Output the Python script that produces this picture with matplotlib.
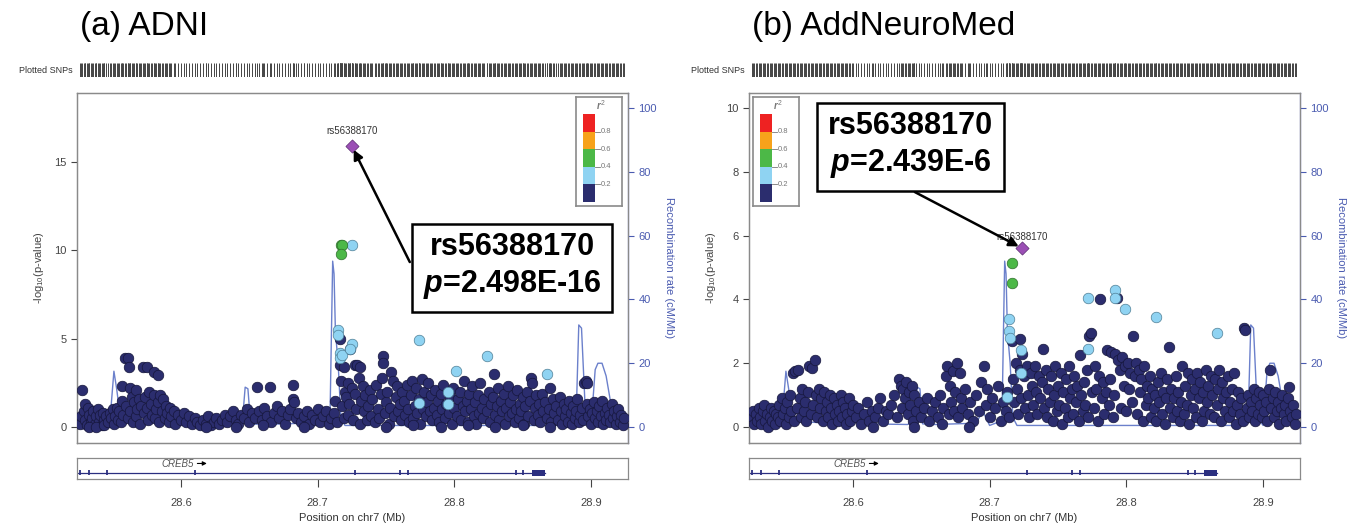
import matplotlib
matplotlib.use("Agg")
import matplotlib.pyplot as plt
from matplotlib.patches import Rectangle

plt.rcParams['font.family'] = ['Liberation Sans', 'DejaVu Sans']
plt.rcParams['mathtext.fontset'] = 'custom'
plt.rcParams['mathtext.rm'] = 'Liberation Sans'
plt.rcParams['mathtext.it'] = 'Liberation Sans:italic:bold'
plt.rcParams['mathtext.bf'] = 'Liberation Sans:bold'

# ---- data ----
titles = ["(a) ADNI", "(b) AddNeuroMed"]
lead_snp = "rs56388170"
lead_p = ["2.498E-16", "2.439E-6"]
lead_a = (28.725, 15.9)
lead_b = (28.724, 5.6)

# ADNI: (position Mb, -log10 p), r2 < 0.2
a_navy = [
    (28.526, 0.2), (28.527, 0.6), (28.528, 2.1), (28.529, 0.9), (28.530, 0.4), (28.530, 1.3), (28.531, 0.1),
    (28.532, 1.1), (28.533, 0.7), (28.534, 0.3), (28.535, 0.5), (28.536, 0.9), (28.537, 0.2), (28.538, 0.6),
    (28.539, 1.0), (28.540, 0.3), (28.541, 0.7), (28.542, 0.1), (28.543, 0.8), (28.544, 0.4), (28.545, 0.6),
    (28.533, 0.0), (28.538, 0.0), (28.544, 0.1),
    (28.547, 0.3), (28.548, 0.8), (28.549, 0.5), (28.550, 1.0), (28.551, 0.2), (28.552, 0.6), (28.553, 1.1),
    (28.554, 0.4), (28.555, 0.9), (28.556, 0.3), (28.557, 2.3), (28.557, 1.5), (28.558, 0.7), (28.559, 3.9),
    (28.560, 1.2), (28.561, 3.9), (28.561, 0.5), (28.562, 3.4), (28.563, 2.2), (28.563, 0.9), (28.564, 1.7),
    (28.565, 0.3), (28.566, 1.4), (28.567, 2.1), (28.567, 0.6), (28.568, 1.0), (28.569, 1.6), (28.570, 0.2),
    (28.571, 1.2), (28.572, 3.4), (28.573, 0.8), (28.574, 1.7), (28.575, 3.4), (28.575, 1.1), (28.576, 0.4),
    (28.577, 2.0), (28.578, 1.3), (28.579, 0.7), (28.580, 3.1), (28.580, 1.8), (28.581, 0.5), (28.582, 1.0),
    (28.583, 2.95), (28.583, 1.4), (28.584, 0.3), (28.585, 1.8), (28.586, 0.9), (28.587, 1.6), (28.588, 0.5),
    (28.589, 1.2), (28.590, 0.8), (28.591, 0.3), (28.592, 1.1), (28.593, 0.6), (28.595, 0.9), (28.596, 0.2),
    (28.598, 0.7), (28.600, 0.4), (28.602, 0.8), (28.604, 0.3),
    (28.606, 0.6), (28.608, 0.2), (28.610, 0.5), (28.612, 0.3), (28.614, 0.1), (28.616, 0.4), (28.618, 0.2),
    (28.620, 0.6), (28.622, 0.1), (28.624, 0.3), (28.626, 0.5), (28.628, 0.2), (28.630, 0.4), (28.632, 0.7),
    (28.634, 0.3), (28.636, 0.6), (28.638, 0.9), (28.640, 0.4), (28.642, 0.2), (28.644, 0.7), (28.646, 0.5),
    (28.648, 1.0), (28.650, 0.3), (28.652, 0.8), (28.654, 0.5), (28.656, 2.25), (28.657, 0.9), (28.659, 0.4),
    (28.661, 1.1), (28.663, 0.6), (28.665, 2.25), (28.666, 0.3), (28.668, 0.8), (28.670, 1.2), (28.672, 0.5),
    (28.674, 0.9), (28.676, 0.2), (28.678, 0.7), (28.680, 1.0), (28.682, 2.4), (28.682, 1.6), (28.683, 1.4),
    (28.684, 0.5), (28.686, 0.8), (28.688, 0.3), (28.690, 0.6), (28.692, 0.9), (28.694, 0.2), (28.696, 0.7),
    (28.698, 0.4), (28.700, 1.0), (28.702, 0.3), (28.704, 0.6), (28.706, 0.9), (28.708, 0.2), (28.710, 0.5),
    (28.618, 0.0), (28.640, 0.0), (28.660, 0.1), (28.690, 0.0),
    (28.712, 0.8), (28.713, 1.5), (28.714, 0.3), (28.716, 5.0), (28.716, 3.5), (28.717, 2.6), (28.718, 1.2),
    (28.719, 3.4), (28.719, 0.5), (28.720, 2.0), (28.721, 1.7), (28.722, 2.5), (28.722, 0.7), (28.723, 1.3),
    (28.724, 4.4), (28.725, 2.2), (28.726, 0.4), (28.727, 3.5), (28.727, 1.9), (28.728, 1.0), (28.729, 3.5),
    (28.730, 2.8), (28.731, 3.4), (28.731, 0.2), (28.732, 1.5), (28.733, 2.3), (28.734, 0.9), (28.735, 1.8),
    (28.736, 0.4), (28.737, 1.2), (28.738, 2.1), (28.739, 0.6), (28.740, 1.6),
    (28.742, 0.3), (28.743, 2.4), (28.744, 1.0), (28.745, 0.5), (28.746, 1.9), (28.747, 2.8), (28.748, 4.0),
    (28.748, 3.6), (28.749, 0.8), (28.750, 1.4), (28.751, 2.0), (28.752, 0.2), (28.753, 1.1), (28.754, 3.1),
    (28.755, 2.6), (28.756, 0.6), (28.757, 1.7), (28.758, 2.3), (28.759, 0.9), (28.760, 1.3), (28.761, 0.4),
    (28.762, 2.0), (28.763, 1.5), (28.764, 0.7), (28.765, 2.4), (28.766, 1.0), (28.767, 0.3), (28.768, 1.8),
    (28.769, 2.6), (28.770, 0.5), (28.771, 1.2), (28.772, 2.2), (28.773, 0.8), (28.774, 1.6), (28.775, 0.2),
    (28.776, 2.7), (28.777, 1.0), (28.778, 2.0), (28.779, 0.6), (28.780, 1.4), (28.781, 2.5), (28.782, 0.9),
    (28.783, 1.8), (28.784, 0.4), (28.785, 1.1), (28.786, 2.1), (28.787, 0.7), (28.788, 1.5), (28.789, 0.3),
    (28.790, 1.9), (28.791, 1.0), (28.792, 2.4), (28.793, 0.5), (28.794, 1.3), (28.796, 0.8), (28.797, 1.7),
    (28.798, 0.2), (28.799, 2.2), (28.800, 1.1), (28.802, 0.6), (28.803, 1.6), (28.804, 2.0), (28.805, 0.4),
    (28.806, 1.2), (28.807, 2.6), (28.808, 0.9), (28.809, 1.5), (28.810, 0.3), (28.811, 1.9), (28.812, 1.0),
    (28.813, 2.3), (28.814, 0.6), (28.815, 1.4), (28.816, 0.2), (28.817, 1.8), (28.818, 0.8), (28.819, 2.5),
    (28.820, 1.1), (28.821, 0.5), (28.822, 1.6), (28.824, 0.9), (28.825, 2.0), (28.826, 0.3), (28.827, 1.3),
    (28.828, 1.7), (28.829, 3.0), (28.830, 0.7), (28.831, 1.2), (28.832, 2.2), (28.833, 0.4), (28.834, 1.5),
    (28.835, 0.9), (28.836, 1.9), (28.837, 0.2), (28.838, 1.1), (28.839, 2.3), (28.840, 0.6), (28.841, 1.4),
    (28.842, 0.8), (28.843, 1.8), (28.844, 0.3), (28.845, 1.0), (28.846, 2.1), (28.847, 0.5), (28.848, 1.3),
    (28.849, 0.9), (28.850, 1.7), (28.851, 0.2), (28.852, 1.2), (28.853, 2.0), (28.854, 0.6), (28.855, 1.5),
    (28.856, 2.8), (28.857, 2.5), (28.858, 0.4), (28.859, 1.1), (28.860, 1.8), (28.861, 0.7), (28.862, 1.3),
    (28.863, 0.3), (28.864, 1.9), (28.865, 0.9), (28.866, 1.4), (28.868, 0.5), (28.869, 1.0), (28.870, 2.2),
    (28.871, 0.3), (28.872, 1.6), (28.873, 0.8), (28.874, 1.2), (28.876, 0.4), (28.877, 1.7), (28.878, 0.9),
    (28.879, 0.2), (28.880, 1.3), (28.750, 0.0), (28.770, 0.1), (28.790, 0.0), (28.810, 0.1), (28.830, 0.0),
    (28.850, 0.1), (28.870, 0.0),
    (28.881, 0.6), (28.882, 1.0), (28.883, 0.3), (28.884, 1.5), (28.885, 0.8), (28.886, 0.2), (28.887, 1.2),
    (28.888, 0.5), (28.889, 0.9), (28.890, 1.6), (28.891, 0.3), (28.892, 0.7), (28.893, 1.1), (28.894, 0.4),
    (28.895, 2.5), (28.896, 2.6), (28.897, 2.5), (28.897, 1.3), (28.898, 0.6), (28.899, 1.0), (28.900, 0.2),
    (28.901, 0.8), (28.902, 1.4), (28.903, 0.5), (28.904, 0.9), (28.905, 0.3), (28.906, 1.2), (28.907, 0.6),
    (28.908, 1.5), (28.909, 0.2), (28.910, 0.8), (28.911, 0.4), (28.912, 1.1), (28.913, 0.7), (28.914, 0.3),
    (28.915, 1.3), (28.916, 0.5), (28.917, 0.9), (28.918, 0.2), (28.919, 0.6), (28.920, 1.0), (28.921, 0.3),
    (28.922, 0.7), (28.923, 0.1), (28.924, 0.5),
]
a_lightblue = [(28.715, 5.5), (28.715, 5.2), (28.716, 4.2), (28.716, 3.9), (28.718, 4.1), (28.725, 10.3),
               (28.725, 4.7), (28.724, 4.4), (28.774, 4.9), (28.774, 1.35), (28.795, 2.0), (28.795, 1.3),
               (28.801, 3.15), (28.824, 4.0), (28.868, 3.0)]
a_green = [(28.717, 10.3), (28.718, 10.3), (28.717, 9.8)]

# AddNeuroMed
b_navy = [
    (28.526, 0.3), (28.527, 0.5), (28.528, 0.1), (28.529, 0.4), (28.530, 0.2), (28.531, 0.6), (28.532, 0.3),
    (28.533, 0.1), (28.534, 0.5), (28.535, 0.7), (28.536, 0.2), (28.537, 0.4), (28.538, 0.0), (28.539, 0.3),
    (28.540, 0.6), (28.541, 0.2), (28.542, 0.5), (28.543, 0.1), (28.544, 0.4), (28.545, 0.3), (28.546, 0.7),
    (28.547, 0.2), (28.548, 0.9), (28.549, 0.4), (28.550, 0.6), (28.551, 0.1),
    (28.552, 0.8), (28.553, 0.3), (28.554, 1.0), (28.555, 0.5), (28.556, 1.7), (28.557, 0.2), (28.558, 1.75),
    (28.559, 0.6), (28.560, 1.8), (28.561, 0.9), (28.562, 0.3), (28.563, 1.2), (28.564, 0.5), (28.565, 0.8),
    (28.566, 0.2), (28.567, 1.1), (28.568, 1.9), (28.569, 0.4), (28.570, 1.85), (28.571, 0.7), (28.572, 2.1),
    (28.573, 1.0), (28.574, 0.3), (28.575, 1.2), (28.576, 0.6), (28.577, 0.9), (28.578, 0.2), (28.579, 1.1),
    (28.580, 0.5), (28.581, 0.8), (28.582, 0.3), (28.583, 1.0), (28.584, 0.6), (28.585, 0.1), (28.586, 0.9),
    (28.587, 0.4), (28.588, 0.7), (28.589, 0.2), (28.590, 0.5), (28.591, 1.0), (28.592, 0.3), (28.593, 0.8),
    (28.594, 0.6), (28.595, 0.1), (28.596, 0.4), (28.597, 0.9), (28.598, 0.2), (28.599, 0.5), (28.600, 0.7),
    (28.602, 0.3), (28.604, 0.6), (28.606, 0.1), (28.608, 0.4), (28.610, 0.8), (28.612, 0.2), (28.614, 0.5),
    (28.616, 0.3), (28.618, 0.6), (28.620, 0.9), (28.622, 0.2), (28.624, 0.5), (28.626, 0.4), (28.628, 0.7),
    (28.630, 1.0), (28.632, 0.3), (28.634, 1.5), (28.635, 1.3), (28.636, 0.6), (28.637, 1.2), (28.638, 0.9),
    (28.639, 1.4), (28.640, 0.4), (28.641, 1.1), (28.642, 0.7), (28.643, 1.3), (28.644, 0.2), (28.645, 1.0),
    (28.646, 0.5), (28.648, 0.8), (28.650, 0.3), (28.652, 0.6), (28.654, 0.9), (28.656, 0.2), (28.658, 0.5),
    (28.660, 0.8), (28.662, 0.3), (28.664, 1.0), (28.666, 0.6), (28.668, 1.6), (28.669, 1.9), (28.670, 0.4),
    (28.671, 1.3), (28.672, 0.8), (28.673, 1.75), (28.674, 0.5), (28.675, 1.1), (28.676, 2.0), (28.677, 0.3),
    (28.678, 1.7), (28.679, 0.9), (28.680, 0.6), (28.682, 1.2), (28.684, 0.4), (28.686, 0.8), (28.688, 0.2),
    (28.690, 1.0), (28.692, 0.5), (28.694, 1.4), (28.696, 1.9), (28.697, 0.7), (28.698, 1.2), (28.700, 0.3),
    (28.702, 0.9), (28.704, 0.6), (28.706, 1.3), (28.708, 0.2), (28.710, 0.8), (28.615, 0.0), (28.645, 0.0),
    (28.665, 0.1), (28.685, 0.0),
    (28.712, 0.5), (28.713, 1.1), (28.714, 0.3), (28.716, 2.7), (28.717, 1.5), (28.718, 0.8), (28.719, 2.0),
    (28.720, 1.2), (28.721, 0.4), (28.722, 2.75), (28.722, 1.8), (28.723, 0.9), (28.724, 2.3), (28.725, 1.6),
    (28.726, 0.6), (28.727, 1.9), (28.728, 1.0), (28.729, 0.3), (28.730, 1.7), (28.731, 1.3), (28.732, 0.7),
    (28.733, 1.9), (28.734, 1.1), (28.735, 0.4), (28.736, 1.6), (28.737, 0.9), (28.738, 1.4), (28.739, 2.45),
    (28.740, 0.6),
    (28.741, 1.8), (28.742, 0.3), (28.743, 1.2), (28.744, 0.8), (28.745, 1.6), (28.746, 0.2), (28.747, 1.0),
    (28.748, 1.9), (28.749, 0.5), (28.750, 1.3), (28.751, 0.7), (28.752, 1.7), (28.753, 0.1), (28.754, 1.1),
    (28.755, 0.6), (28.756, 1.5), (28.757, 0.3), (28.758, 1.9), (28.759, 0.9), (28.760, 1.2), (28.761, 0.4),
    (28.762, 1.6), (28.763, 0.8), (28.764, 1.3), (28.765, 0.2), (28.766, 2.25), (28.767, 1.0), (28.768, 0.5),
    (28.769, 1.4), (28.770, 0.7), (28.771, 1.8), (28.772, 0.3), (28.773, 2.85), (28.774, 2.95), (28.775, 1.1),
    (28.776, 0.6), (28.777, 1.9), (28.778, 1.2), (28.779, 0.2), (28.780, 1.6), (28.781, 4.0), (28.782, 0.9),
    (28.783, 1.4), (28.784, 0.4), (28.785, 1.1), (28.786, 2.4), (28.787, 0.7), (28.788, 1.5), (28.789, 2.35),
    (28.790, 0.3), (28.791, 1.0), (28.792, 2.3), (28.793, 4.05), (28.794, 2.1), (28.795, 1.8), (28.796, 0.6),
    (28.797, 2.2), (28.798, 1.3), (28.799, 1.9), (28.800, 0.5), (28.801, 2.0), (28.802, 1.2), (28.803, 1.7),
    (28.804, 0.8), (28.805, 2.85), (28.806, 1.6), (28.807, 2.0), (28.808, 0.4), (28.809, 1.8), (28.810, 1.1),
    (28.811, 1.5), (28.812, 0.2), (28.813, 1.9), (28.814, 0.7), (28.815, 1.3), (28.816, 0.9), (28.817, 1.6),
    (28.818, 0.3), (28.819, 1.2), (28.820, 0.6), (28.821, 1.0), (28.822, 0.2), (28.823, 1.4), (28.824, 0.8),
    (28.825, 1.7), (28.826, 0.4), (28.827, 1.1), (28.828, 0.1), (28.829, 0.9), (28.830, 1.5), (28.831, 2.5),
    (28.832, 0.6), (28.833, 1.2), (28.834, 0.3), (28.835, 0.9), (28.836, 1.6), (28.837, 0.5), (28.838, 1.1),
    (28.839, 0.2), (28.840, 0.8), (28.841, 1.9), (28.842, 0.4), (28.843, 1.3), (28.844, 0.7), (28.845, 1.7),
    (28.846, 0.1), (28.847, 1.0), (28.848, 1.5), (28.849, 0.6), (28.850, 1.2), (28.851, 0.3), (28.852, 1.7),
    (28.853, 0.9), (28.854, 1.4), (28.855, 0.2), (28.856, 1.1), (28.857, 0.5), (28.858, 1.8), (28.859, 0.8),
    (28.860, 1.3), (28.861, 0.4), (28.862, 1.6), (28.863, 1.0), (28.864, 0.3), (28.865, 1.5), (28.866, 0.7),
    (28.867, 1.2), (28.868, 1.8), (28.869, 0.2), (28.870, 1.4), (28.871, 0.9), (28.872, 0.5), (28.873, 1.1),
    (28.874, 1.6), (28.875, 0.3), (28.876, 0.8), (28.877, 1.2), (28.878, 0.5), (28.879, 1.7), (28.880, 0.1),
    (28.881, 0.7), (28.882, 1.1), (28.883, 0.4), (28.884, 0.9), (28.885, 0.2), (28.886, 3.1), (28.887, 3.05),
    (28.888, 0.6), (28.889, 1.0), (28.890, 0.3), (28.891, 0.8), (28.892, 0.5), (28.893, 1.2), (28.894, 0.2),
    (28.895, 0.9), (28.896, 0.4), (28.897, 1.1), (28.898, 0.7), (28.899, 0.3), (28.900, 1.0), (28.901, 0.5),
    (28.902, 0.8), (28.903, 0.2), (28.904, 1.2), (28.905, 1.8), (28.906, 0.6), (28.907, 0.9), (28.908, 0.3),
    (28.909, 1.1), (28.910, 0.5), (28.911, 0.8), (28.912, 0.1), (28.913, 0.6), (28.914, 1.0), (28.915, 0.4),
    (28.916, 0.7), (28.917, 0.2), (28.918, 0.9), (28.919, 1.25), (28.920, 0.5), (28.921, 0.3), (28.922, 0.7),
    (28.923, 0.1), (28.924, 0.4),
]
b_lightblue = [(28.714, 3.4), (28.714, 3.0), (28.715, 2.8), (28.723, 2.4), (28.723, 1.7), (28.713, 0.95),
               (28.772, 4.05), (28.792, 4.3), (28.792, 4.05), (28.799, 3.7), (28.822, 3.45), (28.866, 2.95),
               (28.772, 2.45)]
b_green = [(28.716, 5.15), (28.716, 4.5)]

# recombination rate (cM/Mb)
rec_pos = [28.524, 28.540, 28.548, 28.551, 28.553, 28.556, 28.570, 28.600, 28.605, 28.610, 28.640, 28.645,
           28.647, 28.649, 28.651, 28.660, 28.690, 28.695, 28.700, 28.709, 28.711, 28.712, 28.713, 28.715,
           28.717, 28.720, 28.760, 28.800, 28.860, 28.885, 28.889, 28.891, 28.893, 28.896, 28.900, 28.903,
           28.905, 28.908, 28.911, 28.915, 28.920, 28.925]
rec_rate = [1.0, 1.0, 1.5, 17.5, 12, 2, 1.5, 1.0, 3, 1.0, 0.8, 2, 12.5, 12, 1.0, 0.8, 1.2, 5, 0.5, 2, 52, 48,
            30, 20, 3, 0.5, 0.5, 0.5, 0.5, 0.5, 2, 32, 31, 3, 0.5, 18, 20, 20, 16, 6, 1, 0.5]

# CREB5 gene model
gene_start, gene_end = 28.524, 28.866
exons = [28.526, 28.533, 28.546, 28.610, 28.727, 28.760, 28.766, 28.845, 28.850]
last_exon = (28.857, 28.866)

r2_breaks = ["0.2", "0.4", "0.6", "0.8"]
ld_colors = ["#2b2d6e", "#8fd3f2", "#4cb847", "#f7a21b", "#ee2222"]
lead_color = "#9b4fb5"
rec_color = "#5b72c6"
axis_blue = "#4a5bb0"
grey = "#8a8a8a"

W, H = 1352, 524
fig = plt.figure(figsize=(W / 100, H / 100), dpi=100)


def box(l, t, r, b):
    return [l / W, 1 - b / H, (r - l) / W, (b - t) / H]


def panel(x0, title, navy, lightblue, green, lead, ylim, yticks, pval, ann_xy, arrow_from, legend_x,
          label_y):
    left, right = 77 + x0, 628 + x0
    xlim = (28.524, 28.927)
    fig.text((80 + x0) / W, 1 - 27 / H, title, fontsize=24, va="center", ha="left")

    # plotted SNPs rug
    axr = fig.add_axes(box(left, 63, right, 77))
    allpos = [p for p, _ in navy + lightblue + green] + [lead[0]]
    axr.vlines(allpos, 0, 1, color="#444444", lw=0.7)
    axr.set_xlim(xlim)
    axr.set_ylim(0, 1)
    axr.axis("off")
    fig.text((left - 4) / W, 1 - 70 / H, "Plotted SNPs", fontsize=6.5, ha="right", va="center",
             color="#333333")

    # main association plot
    ax = fig.add_axes(box(left, 93, right, 443))
    ax2 = ax.twinx()
    ax2.plot(rec_pos, rec_rate, color=rec_color, lw=1.0, alpha=0.9)
    ax2.set_ylim(-5, 104.7)
    ax2.set_yticks([0, 20, 40, 60, 80, 100])
    ax2.tick_params(axis="y", colors=axis_blue, labelsize=8, length=4, width=0.8)
    ax2.set_ylabel("Recombination rate (cM/Mb)", color=axis_blue, fontsize=8, rotation=270,
                   labelpad=12)
    ax.set_zorder(ax2.get_zorder() + 1)
    ax.patch.set_visible(False)

    for pts, col, ec in [(navy, ld_colors[0], "#15163a"), (lightblue, ld_colors[1], "#4f7f96"),
                         (green, ld_colors[2], "#2f6e2c")]:
        ax.scatter([p for p, _ in pts], [v for _, v in pts], s=58, c=col, edgecolors=ec,
                   linewidths=0.5, zorder=3)
    ax.scatter([lead[0]], [lead[1]], s=45, marker="D", c=lead_color, edgecolors="#5a2a70",
               linewidths=0.5, zorder=4)
    ax.text(lead[0], label_y, lead_snp, fontsize=7, ha="center", va="bottom", color="#333333",
            zorder=5)

    ax.set_xlim(xlim)
    ax.set_ylim(ylim)
    ax.set_yticks(yticks)
    ax.set_xticks([])
    ax.tick_params(axis="y", colors="#444444", labelsize=8, length=4, width=0.8)
    ax.set_ylabel("-log$_{10}$(p-value)", fontsize=8, color="#444444", labelpad=6)
    for a in (ax, ax2):
        for s in a.spines.values():
            s.set_color(grey)
            s.set_linewidth(0.9)
    ax2.spines["right"].set_color(axis_blue)

    # annotation box with arrow
    ax.annotate("", xy=lead, xycoords="data", xytext=arrow_from, textcoords="axes fraction",
                arrowprops=dict(arrowstyle="-|>", color="black", lw=1.8, mutation_scale=14,
                                shrinkA=0, shrinkB=3), zorder=6)
    ax.text(ann_xy[0], ann_xy[1], lead_snp + "\n$p$=" + pval, transform=ax.transAxes, fontsize=22,
            fontweight="bold", ha="center", va="center", linespacing=1.25, zorder=7,
            bbox=dict(boxstyle="square,pad=0.35", fc="white", ec="black", lw=1.8))

    # r2 legend
    axl = fig.add_axes(box(legend_x, 97, legend_x + 46, 206))
    axl.set_xlim(0, 1)
    axl.set_ylim(0, 1)
    axl.set_xticks([])
    axl.set_yticks([])
    for s in axl.spines.values():
        s.set_color(grey)
        s.set_linewidth(1.2)
    bh = 0.8 / 5
    for i, col in enumerate(ld_colors):
        axl.add_patch(Rectangle((0.15, 0.04 + i * bh), 0.27, bh, fc=col, ec="none"))
    for i, lab in enumerate(r2_breaks):
        yy = 0.04 + (i + 1) * bh
        axl.plot([0.42, 0.52], [yy, yy], color="#777777", lw=0.6)
        axl.text(0.54, yy, lab, fontsize=5.5, color="#777777", va="center", ha="left")
    axl.text(0.55, 0.93, "$r^2$", fontsize=7, color="#777777", ha="center", va="center")

    # gene track
    axg = fig.add_axes(box(left, 458, right, 479))
    axg.plot([gene_start, gene_end], [0.3, 0.3], color="#2b2f80", lw=0.9)
    axg.vlines(exons, 0.18, 0.42, color="#2b2f80", lw=1.3)
    axg.add_patch(Rectangle((last_exon[0], 0.15), last_exon[1] - last_exon[0], 0.3, fc="#2b2f80",
                            ec="none"))
    axg.text(28.586, 0.72, "CREB5", fontsize=7, style="italic", color="#555555", ha="left",
             va="center")
    axg.annotate("", xy=(28.621, 0.74), xytext=(28.610, 0.74),
                 arrowprops=dict(arrowstyle="-|>", color="black", lw=0.8, mutation_scale=6))
    axg.set_xlim(xlim)
    axg.set_ylim(0, 1)
    axg.set_yticks([])
    axg.set_xticks([28.6, 28.7, 28.8, 28.9])
    axg.set_xticklabels(["28.6", "28.7", "28.8", "28.9"])
    axg.tick_params(axis="x", colors="#444444", labelsize=8, length=6, width=0.8, pad=8)
    for s in axg.spines.values():
        s.set_color(grey)
        s.set_linewidth(0.9)
    axg.set_xlabel("Position on chr7 (Mb)", fontsize=8, color="#333333", labelpad=3)


panel(0, titles[0], a_navy, a_lightblue, a_green, lead_a, (-0.9, 18.9), [0, 5, 10, 15], lead_p[0],
      (0.79, 0.503), (0.604, 0.517), 576, 16.45)
panel(672, titles[1], b_navy, b_lightblue, b_green, lead_b, (-0.5, 10.47), [0, 2, 4, 6, 8, 10],
      lead_p[1], (0.293, 0.849), (0.301, 0.717), 753, 5.8)

fig.savefig("out.png", dpi=100)
